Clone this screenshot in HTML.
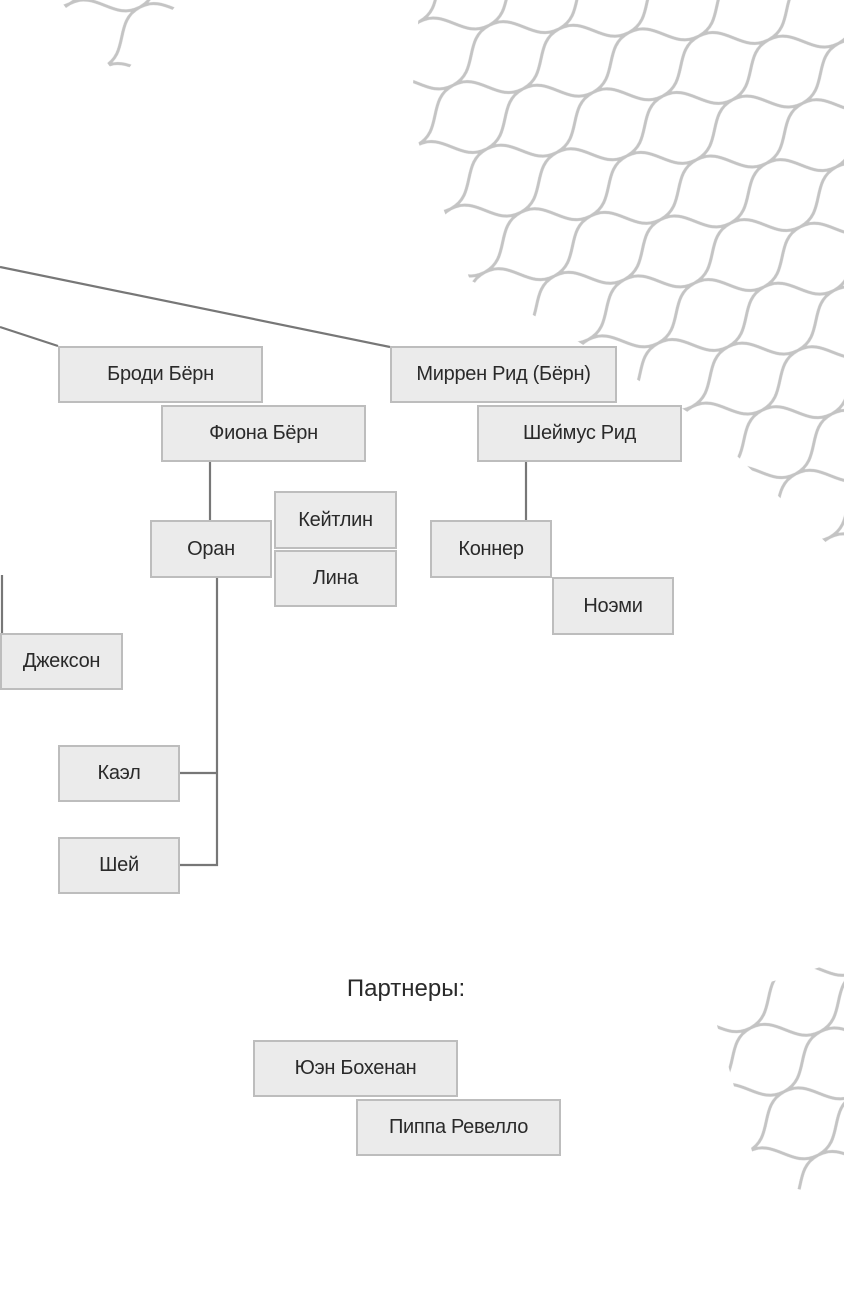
<!DOCTYPE html>
<html><head><meta charset="utf-8"><style>
body{margin:0;width:844px;height:1311px;position:relative;background:#fff;overflow:hidden;font-family:"Liberation Sans",sans-serif}
.b{position:absolute;box-sizing:border-box;background:#ebebeb;border:2px solid #bdbdbd;display:flex;align-items:center;justify-content:center;font-size:20px;color:#2a2a2a;letter-spacing:-0.3px}
svg{position:absolute;left:0;top:0}
</style></head><body>
<svg width="844" height="1311">
<defs>
<pattern id="sc" width="120" height="72" patternUnits="userSpaceOnUse" patternTransform="rotate(-28)">
<path d="M0 0 C30 0 30 36 60 36 C90 36 90 0 120 0 M0 72 C30 72 30 36 60 36 C90 36 90 72 120 72" fill="none" stroke="#c4c4c4" stroke-width="3"/>
</pattern>
<mask id="m1"><rect x="0" y="0" width="844" height="1311" fill="#000"/><polygon points="420,0 844,0 844,560 700,420 560,330 470,280 410,120" fill="#fff"/><polygon points="60,0 180,0 120,80" fill="#fff"/><polygon points="710,1000 844,960 844,1200 760,1180" fill="#fff"/></mask>
</defs>
<rect width="844" height="1311" fill="url(#sc)" mask="url(#m1)"/>
<g stroke="#777" stroke-width="2.2" fill="none">
<line x1="0" y1="267" x2="390" y2="347"/>
<line x1="0" y1="327" x2="58" y2="346"/>
<line x1="210" y1="461" x2="210" y2="520"/>
<line x1="526" y1="461" x2="526" y2="520"/>
<polyline points="217,577 217,865 179,865"/>
<line x1="179" y1="773" x2="217" y2="773"/>
<line x1="2" y1="575" x2="2" y2="633"/>
</g>
</svg>
<div class="b" style="left:58px;top:346px;width:205px;height:57px">Броди Бёрн</div>
<div class="b" style="left:161px;top:405px;width:205px;height:57px">Фиона Бёрн</div>
<div class="b" style="left:390px;top:346px;width:227px;height:57px">Миррен Рид (Бёрн)</div>
<div class="b" style="left:477px;top:405px;width:205px;height:57px">Шеймус Рид</div>
<div class="b" style="left:150px;top:520px;width:122px;height:58px">Оран</div>
<div class="b" style="left:274px;top:491px;width:123px;height:58px">Кейтлин</div>
<div class="b" style="left:274px;top:550px;width:123px;height:57px">Лина</div>
<div class="b" style="left:430px;top:520px;width:122px;height:58px">Коннер</div>
<div class="b" style="left:552px;top:577px;width:122px;height:58px">Ноэми</div>
<div class="b" style="left:0px;top:633px;width:123px;height:57px">Джексон</div>
<div class="b" style="left:58px;top:745px;width:122px;height:57px">Каэл</div>
<div class="b" style="left:58px;top:837px;width:122px;height:57px">Шей</div>
<div style="position:absolute;left:300px;top:975px;width:212px;text-align:center;font-size:24px;color:#2a2a2a">Партнеры:</div>
<div class="b" style="left:253px;top:1040px;width:205px;height:57px">Юэн Бохенан</div>
<div class="b" style="left:356px;top:1099px;width:205px;height:57px">Пиппа Ревелло</div>
</body></html>
